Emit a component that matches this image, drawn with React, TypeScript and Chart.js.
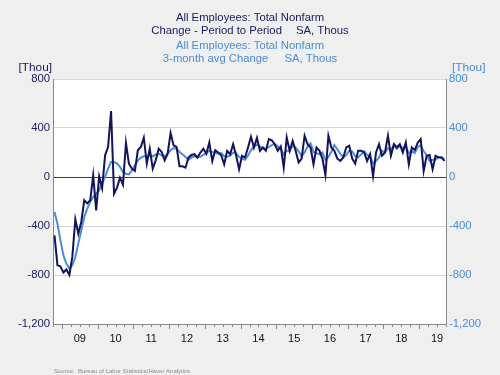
import React, { useEffect, useRef } from "react";
import { Chart, registerables } from "chart.js";

Chart.register(...registerables);

// ---- data ----
const FIRST_MONTH = "2008-10"; // first observation (monthly)
const PERIOD_CHANGE = [
  -476, -720, -730,
  -780, -755, -800, -650, -345, -462, -367, -190, -215, -190, 14, -272,
  5, -90, 177, 245, 539, -136, -87, -5, -63, 278, 109, 68,
  50, 218, 245, 321, 109, 231, 68, 136, 231, 204, 136, 190,
  359, 258, 245, 87, 87, 76, 158, 180, 186, 159, 200, 230,
  190, 282, 131, 219, 200, 178, 104, 214, 186, 268, 178, 63,
  173, 159, 241, 329, 240, 320, 214, 241, 214, 310, 300, 265,
  214, 250, 77, 323, 214, 295, 214, 118, 150, 337, 268, 241,
  104, 241, 214, 150, 16, 337, 241, 214, 150, 131, 159, 241,
  255, 150, 110, 214, 214, 200, 131, 186, 8, 200, 268, 173,
  200, 337, 173, 268, 241, 268, 200, 282, 104, 241, 220, 280,
  310, 49, 173, 180, 63, 173, 159, 159, 131,
];
const AVG_3M_CHANGE = [
  -286, -381, -517,
  -640, -707, -748, -721, -653, -544, -435, -327, -258, -204, -163, -136,
  -109, -54, 0, 68, 122, 122, 109, 82, 41, 27, 22, 54,
  95, 136, 158, 169, 169, 177, 169, 185, 190, 177, 169, 190,
  218, 237, 231, 204, 185, 163, 141, 158, 169, 163, 165, 180,
  195, 215, 205, 200, 190, 195, 170, 165, 175, 200, 195, 165,
  150, 140, 175, 220, 250, 265, 250, 235, 230, 245, 260, 270,
  250, 230, 185, 215, 215, 255, 240, 210, 170, 200, 250, 275,
  205, 195, 185, 200, 140, 165, 205, 260, 225, 190, 160, 180,
  215, 210, 170, 160, 185, 210, 180, 170, 110, 130, 160, 215,
  200, 235, 225, 255, 230, 255, 235, 250, 195, 210, 195, 245,
  260, 210, 180, 130, 140, 140, 165, 160, 150,
];
const YEAR_LABELS = ["09", "10", "11", "12", "13", "14", "15", "16", "17", "18", "19"];
const Y_MIN = -1200;
const Y_MAX = 800;
const Y_STEP = 400;

const TITLE_1 = "All Employees: Total Nonfarm";
const TITLE_2 = ["Change - Period to Period", "SA, Thous"];
const TITLE_3 = "All Employees: Total Nonfarm";
const TITLE_4 = ["3-month avg Change", "SA, Thous"];
const UNIT = "[Thou]";
const SOURCE = "Source:  Bureau of Labor Statistics/Haver Analytics";

// ---- style ----
const NAVY = "#1a1a62";
const LIGHT = "#4b8dd6";
const FONT = "'Liberation Sans', Arial, sans-serif";

const [fy, fm] = FIRST_MONTH.split("-").map(Number);
const START = (fy - 2009) * 12 + (fm - 1); // month index relative to Jan 2009
const END = START + PERIOD_CHANGE.length;

const darkPts = PERIOD_CHANGE.map((v, i) => ({ x: START + i + 0.5, y: v }));
const lightPts = AVG_3M_CHANGE.map((v, i) => ({ x: START + i + 0.5, y: v }));
const yearCenters = YEAR_LABELS.map((l) => (Number(l) + 2000 - 2009) * 12 + 6);

const decor = {
  id: "decor",
  beforeDraw(chart: any) {
    const { ctx, chartArea: ca, width, height } = chart;
    ctx.save();
    ctx.fillStyle = "#efefef";
    ctx.fillRect(0, 0, width, height);
    ctx.fillStyle = "#ffffff";
    ctx.fillRect(ca.left, ca.top, ca.right - ca.left, ca.bottom - ca.top);
    ctx.restore();
  },
  afterDraw(chart: any) {
    const { ctx, chartArea: ca } = chart;
    const xs = chart.scales.x;
    ctx.save();
    // tick marks on x axis (quarters, years longer)
    ctx.strokeStyle = "#8a8a8a";
    ctx.lineWidth = 1;
    for (let q = Math.ceil(START / 3) * 3; q <= END; q += 3) {
      const px = Math.round(xs.getPixelForValue(q)) + 0.5;
      const len = q % 12 === 0 ? 5 : 3;
      ctx.beginPath();
      ctx.moveTo(px, ca.bottom);
      ctx.lineTo(px, ca.bottom + len);
      ctx.stroke();
    }
    // titles
    const cx = 250;
    ctx.textBaseline = "middle";
    ctx.font = `11.3px ${FONT}`;
    const single = (t: string, y: number, color: string) => {
      ctx.fillStyle = color;
      ctx.textAlign = "center";
      ctx.fillText(t, cx, y);
    };
    const pair = (parts: string[], gap: number, y: number, color: string) => {
      ctx.fillStyle = color;
      ctx.textAlign = "left";
      const w1 = ctx.measureText(parts[0]).width;
      const w2 = ctx.measureText(parts[1]).width;
      const x0 = cx - (w1 + gap + w2) / 2;
      ctx.fillText(parts[0], x0, y);
      ctx.fillText(parts[1], x0 + w1 + gap, y);
    };
    single(TITLE_1, 17.5, NAVY);
    pair(TITLE_2, 14, 31, NAVY);
    single(TITLE_3, 45.5, LIGHT);
    pair(TITLE_4, 16, 59, LIGHT);
    // units
    ctx.font = `11.8px ${FONT}`;
    ctx.fillStyle = NAVY;
    ctx.textAlign = "right";
    ctx.fillText(UNIT, ca.left - 1, 67.5);
    ctx.fillStyle = LIGHT;
    ctx.textAlign = "left";
    ctx.fillText(UNIT, ca.right + 6, 67.5);
    // source
    ctx.font = `6px ${FONT}`;
    ctx.fillStyle = "#8a8a8a";
    ctx.textAlign = "left";
    ctx.fillText(SOURCE, 54, 371.5);
    ctx.restore();
  },
};

export default function App() {
  const ref = useRef<HTMLCanvasElement | null>(null);
  useEffect(() => {
    if (!ref.current) return;
    const chart = new Chart(ref.current, {
      type: "line",
      data: {
        datasets: [
          {
            label: "Change - Period to Period",
            data: darkPts,
            borderColor: "#13135c",
            borderWidth: 2,
            pointRadius: 0,
            tension: 0,
            yAxisID: "y",
          },
          {
            label: "3-month avg Change",
            data: lightPts,
            borderColor: LIGHT,
            borderWidth: 2,
            pointRadius: 0,
            tension: 0,
            yAxisID: "y",
          },
        ],
      },
      options: {
        animation: false,
        responsive: false,
        devicePixelRatio: 1,
        layout: { padding: { top: 79, left: 0, right: 0, bottom: 0 } },
        plugins: { legend: { display: false }, tooltip: { enabled: false }, title: { display: false } },
        scales: {
          x: {
            type: "linear",
            position: "bottom",
            min: START,
            max: END,
            afterBuildTicks: (s: any) => {
              s.ticks = yearCenters.map((v) => ({ value: v }));
            },
            afterFit: (s: any) => {
              s.height = 51;
            },
            ticks: {
              autoSkip: false,
              maxRotation: 0,
              padding: 8,
              color: "#111",
              font: { family: FONT, size: 11 },
              callback: (v: any) => {
                const i = yearCenters.indexOf(Number(v));
                return i >= 0 ? YEAR_LABELS[i] : "";
              },
            },
            grid: { display: true, drawOnChartArea: false, drawTicks: false },
            border: { display: true, color: "#8a8a8a", width: 1 },
          },
          y: {
            position: "left",
            min: Y_MIN,
            max: Y_MAX,
            afterFit: (s: any) => {
              s.width = 53;
            },
            ticks: {
              stepSize: Y_STEP,
              padding: 3,
              color: NAVY,
              font: { family: FONT, size: 11.3 },
            },
            grid: {
              drawTicks: false,
              color: (c: any) => (c.tick && c.tick.value === 0 ? "#3c3c3c" : "#d6d6d6"),
              lineWidth: 1,
            },
            border: { display: true, color: "#8a8a8a", width: 1 },
          },
          y2: {
            position: "right",
            min: Y_MIN,
            max: Y_MAX,
            afterFit: (s: any) => {
              s.width = 54;
            },
            ticks: {
              stepSize: Y_STEP,
              padding: 3,
              color: LIGHT,
              font: { family: FONT, size: 11.3 },
            },
            grid: { drawOnChartArea: false, drawTicks: false },
            border: { display: true, color: "#8a8a8a", width: 1 },
          },
        },
      },
      plugins: [decor],
    } as any);
    return () => chart.destroy();
  }, []);
  return (
    <div style={{ position: "absolute", left: 0, top: 0, width: 500, height: 375 }}>
      <canvas ref={ref} width={500} height={375} style={{ display: "block", width: 500, height: 375 }} />
    </div>
  );
}
